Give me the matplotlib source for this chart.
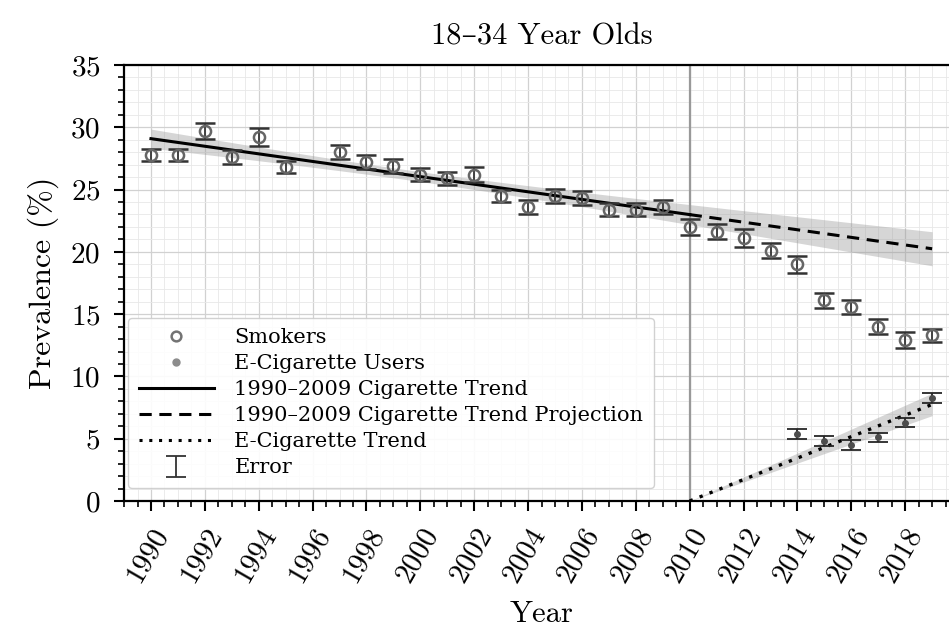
import numpy as np
import matplotlib.pyplot as plt
from matplotlib.lines import Line2D
from matplotlib.ticker import MultipleLocator

plt.rcParams['font.family'] = ['cmr10', 'DejaVu Serif']
plt.rcParams['axes.formatter.use_mathtext'] = True
plt.rcParams['mathtext.fontset'] = 'cm'

# Survey data: cigarette smokers (no 1996 survey) and e-cigarette users
years = np.array([1990, 1991, 1992, 1993, 1994, 1995, 1997, 1998, 1999, 2000,
                  2001, 2002, 2003, 2004, 2005, 2006, 2007, 2008, 2009, 2010,
                  2011, 2012, 2013, 2014, 2015, 2016, 2017, 2018, 2019])
smokers = np.array([27.8, 27.8, 29.7, 27.6, 29.2, 26.8, 28.0, 27.2, 26.9, 26.2,
                    25.9, 26.2, 24.5, 23.6, 24.5, 24.3, 23.4, 23.4, 23.6, 22.0,
                    21.6, 21.1, 20.1, 19.0, 16.1, 15.6, 14.0, 12.9, 13.3])
smokers_err = np.array([0.47, 0.47, 0.64, 0.57, 0.74, 0.50, 0.56, 0.56, 0.59, 0.50,
                        0.53, 0.60, 0.48, 0.56, 0.55, 0.55, 0.55, 0.55, 0.60, 0.63,
                        0.60, 0.70, 0.60, 0.70, 0.57, 0.57, 0.60, 0.63, 0.53])

ecig_years = np.array([2014, 2015, 2016, 2017, 2018, 2019])
ecig = np.array([5.4, 4.8, 4.5, 5.1, 6.3, 8.3])
ecig_err = np.array([0.41, 0.38, 0.38, 0.36, 0.38, 0.40])

year_ticks = np.arange(1990, 2019, 2)

# Linear trend on 1990-2009 smokers, with 95% confidence band
pre = years <= 2009
xp, yp = years[pre], smokers[pre]
slope, intercept = np.polyfit(xp, yp, 1)
resid = yp - (slope * xp + intercept)
s = np.sqrt(np.sum(resid ** 2) / (len(xp) - 2))
sxx = np.sum((xp - xp.mean()) ** 2)
trend_x = np.linspace(1990, 2019, 117)
trend_y = slope * trend_x + intercept
band = 2.11 * s * np.sqrt(1 / len(xp) + (trend_x - xp.mean()) ** 2 / sxx)

# E-cigarette trend, fitted through zero at 2010
ex = ecig_years - 2010
k = np.sum(ex * ecig) / np.sum(ex ** 2)
es = np.sqrt(np.sum((ecig - k * ex) ** 2) / (len(ex) - 1))
ecig_x = np.linspace(2010, 2019, 50)
ecig_y = k * (ecig_x - 2010)
ecig_band = 1.5 * es * (ecig_x - 2010) / np.sqrt(np.sum(ex ** 2))

fig = plt.figure(figsize=(9.49, 6.4), dpi=100)
ax = fig.add_axes([0.1307, 0.2172, 0.8799, 0.6812])

ax.fill_between(trend_x, trend_y - band, trend_y + band, color='0.6', alpha=0.4, lw=0)
ax.fill_between(ecig_x, ecig_y - ecig_band, ecig_y + ecig_band, color='0.6', alpha=0.4, lw=0)

fit_part = trend_x <= 2010
proj_part = trend_x >= 2010
ax.plot(trend_x[fit_part], trend_y[fit_part], color='black', lw=2.2, ls='-')
ax.plot(trend_x[proj_part], trend_y[proj_part], color='black', lw=2.2, ls=(0, (4, 2.5)))
ax.plot(ecig_x, ecig_y, color='black', lw=2.4, ls=(0, (1, 2.2)))

ax.axvline(2010, color='0.6', lw=1.6, zorder=1.5)

ax.errorbar(years, smokers, yerr=smokers_err, fmt='o', ms=8, mfc='none', mec='0.4',
            mew=1.8, ecolor='0.2', elinewidth=1.3, capsize=7, capthick=1.3, zorder=3)
ax.errorbar(ecig_years, ecig, yerr=ecig_err, fmt='o', ms=4, color='0.3',
            ecolor='0.15', elinewidth=1.3, capsize=7, capthick=1.3, zorder=3)

err_proxy = ax.errorbar([np.nan], [np.nan], yerr=[1], fmt='none', ecolor='0.2',
                        elinewidth=1.3, capsize=7, capthick=1.3)

ax.set_xlim(1989, 2020)
ax.set_ylim(0, 35)
ax.set_xticks(year_ticks)
ax.set_xticklabels([str(y) for y in year_ticks], rotation=60, ha='right',
                   rotation_mode='anchor')
ax.xaxis.set_minor_locator(MultipleLocator(0.5))
ax.yaxis.set_major_locator(MultipleLocator(5))
ax.yaxis.set_minor_locator(MultipleLocator(1))

ax.grid(which='major', color='0.82', lw=0.9)
ax.grid(which='minor', color='0.91', lw=0.6)
ax.set_axisbelow(True)

ax.tick_params(which='major', direction='out', length=7, width=1.5, labelsize=21)
ax.tick_params(which='minor', direction='out', length=4, width=1.2)
ax.tick_params(axis='y', which='major', pad=10)
ax.tick_params(axis='x', which='major', pad=9)
for sp in ax.spines.values():
    sp.set_linewidth(1.6)

ax.set_title('18–34 Year Olds', fontsize=22, pad=15)
ax.set_xlabel('Year', fontsize=22, labelpad=10)
ax.set_ylabel('Prevalence (%)', fontsize=23, labelpad=8)

handles = [
    Line2D([], [], ls='none', marker='o', ms=7, mfc='none', mec='0.45', mew=1.8),
    Line2D([], [], ls='none', marker='o', ms=5, color='0.55'),
    Line2D([], [], color='black', lw=2.2),
    Line2D([], [], color='black', lw=2.2, ls=(0, (4, 2.5))),
    Line2D([], [], color='black', lw=2.2, ls=(0, (1, 2.2))),
    err_proxy,
]
labels = ['Smokers', 'E-Cigarette Users', '1990–2009 Cigarette Trend',
          '1990–2009 Cigarette Trend Projection', 'E-Cigarette Trend', 'Error']
leg = ax.legend(handles, labels, loc='lower left', bbox_to_anchor=(0.005, 0.03),
                borderaxespad=0, numpoints=1, handlelength=3.6, handletextpad=1.0,
                prop={'family': 'DejaVu Serif', 'size': 15},
                edgecolor='0.8', framealpha=0.9, labelspacing=0.34,
                borderpad=0.5)

fig.savefig('out.png', dpi=100)
